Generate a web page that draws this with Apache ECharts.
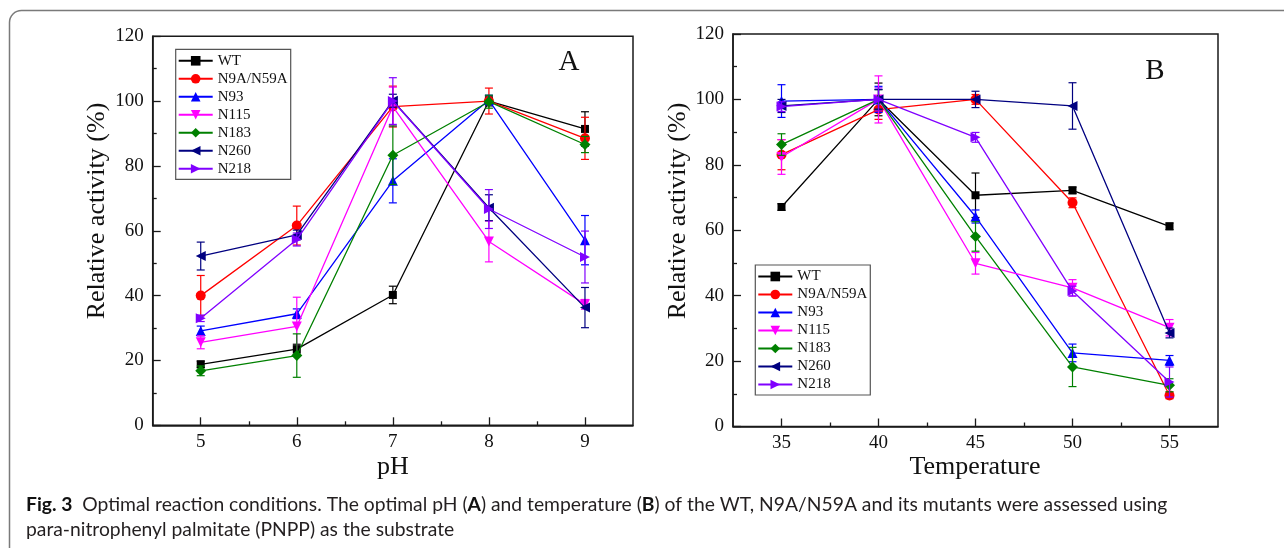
<!DOCTYPE html>
<html>
<head>
<meta charset="utf-8">
<script src="https://cdn.jsdelivr.net/npm/echarts@6/dist/echarts.min.js"></script>
<style>
html,body{margin:0;padding:0;background:#fff;}
#c{width:1284px;height:548px;}
</style>
</head>
<body>
<div id="c"></div>
<script>
// ---------- DATA ----------
const seriesNames = ['WT','N9A/N59A','N93','N115','N183','N260','N218'];
const phValues = [5,6,7,8,9];
const tempValues = [35,40,45,50,55];
const yTicks = [0,20,40,60,80,100,120];

// pH panel (A): relative activity (%)
const phWT      = [18.8, 23.5, 40.2, 100.0, 91.4];
const phN9A     = [40.0, 61.6, 98.3, 100.0, 88.5];
const phN93     = [29.1, 34.4, 75.4, 100.3, 57.1];
const phN115    = [25.6, 30.5, 98.3, 56.7, 37.3];
const phN183    = [16.8, 21.5, 83.3, 99.8, 86.6];
const phN260    = [52.2, 58.7, 100.1, 67.1, 36.3];
const phN218    = [33.0, 57.3, 100.0, 66.7, 51.9];
// pH panel error (±)
const phWTErr   = [1.0, 1.5, 2.7, 1.5, 5.3];
const phN9AErr  = [6.2, 6.0, 6.3, 4.0, 6.5];
const phN93Err  = [1.5, 1.5, 6.8, 1.5, 7.6];
const phN115Err = [2.0, 9.0, 6.0, 6.3, 1.5];
const phN183Err = [1.5, 6.7, 9.0, 2.0, 2.5];
const phN260Err = [4.3, 1.5, 2.0, 4.0, 6.2];
const phN218Err = [1.0, 2.0, 7.2, 6.0, 8.0];

// Temperature panel (B)
const tWT      = [67.1, 100.0, 70.7, 72.2, 61.2];
const tN9A     = [83.1, 96.9, 100.0, 68.4, 9.5];
const tN93     = [99.5, 100.0, 64.2, 22.5, 20.2];
const tN115    = [82.4, 100.0, 49.9, 42.4, 30.2];
const tN183    = [86.2, 100.0, 58.1, 18.2, 12.6];
const tN260    = [98.0, 100.0, 100.0, 98.0, 28.6];
const tN218    = [97.8, 100.0, 88.4, 41.4, 13.6];
const tWTErr   = [1.0, 5.0, 6.8, 1.0, 1.0];
const tN9AErr  = [4.6, 3.0, 1.5, 1.5, 1.0];
const tN93Err  = [5.0, 4.0, 2.0, 2.7, 1.5];
const tN115Err = [5.3, 7.2, 3.3, 2.5, 2.5];
const tN183Err = [3.3, 3.0, 4.5, 6.0, 2.0];
const tN260Err = [2.0, 3.0, 2.5, 7.1, 1.5];
const tN218Err = [1.5, 3.5, 1.5, 1.5, 4.6];

const phData  = [phWT, phN9A, phN93, phN115, phN183, phN260, phN218];
const phErr   = [phWTErr, phN9AErr, phN93Err, phN115Err, phN183Err, phN260Err, phN218Err];
const tData   = [tWT, tN9A, tN93, tN115, tN183, tN260, tN218];
const tErr    = [tWTErr, tN9AErr, tN93Err, tN115Err, tN183Err, tN260Err, tN218Err];

// ---------- STYLE ----------
const colors = ['#000000','#ff0000','#0000ff','#ff00ff','#008000','#000080','#8000ff'];
const symbols = ['rect','circle','triangle',
  'path://M0,0 L10,0 L5,10 Z',
  'diamond',
  'path://M10,0 L10,10 L0,5 Z',
  'path://M0,0 L0,10 L10,5 Z'];
const symSizes = [8,10,10,10,11,10,10];
const serif = "'Liberation Serif','Times New Roman',serif";

const chart = echarts.init(document.getElementById('c'), null, {renderer:'canvas'});

function errRender(color){
  return function(params, api){
    const x = api.value(0), y = api.value(1), e = api.value(2);
    const hi = api.coord([x, y + e]);
    const lo = api.coord([x, y - e]);
    const w = 4;
    const st = {stroke: color, lineWidth: 1.2, fill: null};
    return {type:'group', children:[
      {type:'line', shape:{x1:hi[0], y1:hi[1], x2:lo[0], y2:lo[1]}, style:st},
      {type:'line', shape:{x1:hi[0]-w, y1:hi[1], x2:hi[0]+w, y2:hi[1]}, style:st},
      {type:'line', shape:{x1:lo[0]-w, y1:lo[1], x2:lo[0]+w, y2:lo[1]}, style:st}
    ]};
  };
}

const axisLineStyle = {color:'#1a1a1a', width:1.5};

function mainX(gridIndex, min, max, vals){
  return {type:'value', gridIndex, min, max, position:'bottom',
    axisLine:{show:true, onZero:false, lineStyle:axisLineStyle},
    axisTick:{show:true, inside:true, length:8, customValues:vals, lineStyle:{color:'#1a1a1a', width:1.3}},
    axisLabel:{show:true, customValues:vals, margin:7, color:'#111', fontFamily:serif, fontSize:19},
    splitLine:{show:false}};
}
function minorX(gridIndex, min, max, vals){
  return {type:'value', gridIndex, min, max, position:'bottom',
    axisLine:{show:false},
    axisTick:{show:true, inside:true, length:4, customValues:vals, lineStyle:{color:'#1a1a1a', width:1.3}},
    axisLabel:{show:false},
    splitLine:{show:false}};
}
function mainY(gridIndex){
  return {type:'value', gridIndex, min:yTicks[0], max:yTicks[yTicks.length-1], interval:20,
    axisLine:{show:true, onZero:false, lineStyle:axisLineStyle},
    axisTick:{show:true, inside:true, length:8, lineStyle:{color:'#1a1a1a', width:1.3}},
    minorTick:{show:true, splitNumber:2, length:4, lineStyle:{color:'#1a1a1a', width:1.3}},
    axisLabel:{margin:9, color:'#111', fontFamily:serif, fontSize:19},
    splitLine:{show:false}};
}

const series = [];
function addPanel(xVals, data, errs, xAxisIndex, yAxisIndex){
  for (let i = 0; i < seriesNames.length; i++){
    series.push({
      type:'line', name:seriesNames[i], xAxisIndex, yAxisIndex,
      data: xVals.map((x,k)=>[x, data[i][k]]),
      symbol:symbols[i], symbolSize:symSizes[i],
      lineStyle:{color:colors[i], width:1.3},
      itemStyle:{color:colors[i]},
      z: 3 + i, animation:false
    });
  }
  for (let i = 0; i < seriesNames.length; i++){
    series.push({
      type:'custom', name:seriesNames[i] + ' err', xAxisIndex, yAxisIndex,
      data: xVals.map((x,k)=>[x, data[i][k], errs[i][k]]),
      encode:{x:0, y:1},
      renderItem: errRender(colors[i]),
      z: 3 + i, animation:false, silent:true
    });
  }
}
addPanel(phValues, phData, phErr, 0, 0);
addPanel(tempValues, tData, tErr, 2, 1);

function legend(left, top){
  return {orient:'vertical', left, top, data:seriesNames,
    itemWidth:34, itemHeight:12, itemGap:3,
    padding:[4,3,3,2], borderColor:'#555', borderWidth:1.2,
    textStyle:{fontFamily:serif, fontSize:15, lineHeight:15, color:'#111'},
    selectedMode:false};
}

const option = {
  backgroundColor:'#fff',
  animation:false,
  grid:[
    {left:152.7, right:651, top:36.2, bottom:122.7, show:true, borderColor:'#1a1a1a', borderWidth:1.5, containLabel:false},
    {left:733, right:66, top:34, bottom:121.5, show:true, borderColor:'#1a1a1a', borderWidth:1.5, containLabel:false}
  ],
  xAxis:[
    mainX(0, 4.5, 9.5, phValues),
    minorX(0, 4.5, 9.5, [5.5,6.5,7.5,8.5]),
    mainX(1, 32.5, 57.5, tempValues),
    minorX(1, 32.5, 57.5, [37.5,42.5,47.5,52.5])
  ],
  yAxis:[mainY(0), mainY(1)],
  legend:[legend(175.7, 49.3), legend(755.3, 265)],
  series,
  graphic:[
    {type:'rect', shape:{x:9.5, y:10.5, width:1400, height:700, r:12}, style:{fill:null, stroke:'#7a7a7a', lineWidth:1.5}, z:-10, silent:true},
    {type:'text', x:569, y:77, style:{text:'A', fontFamily:serif, fontSize:29, fill:'#111', align:'center', verticalAlign:'bottom'}},
    {type:'text', x:1155, y:86, style:{text:'B', fontFamily:serif, fontSize:29, fill:'#111', align:'center', verticalAlign:'bottom'}},
    {type:'text', x:97, y:211, rotation:Math.PI/2, style:{text:'Relative activity (%)', fontFamily:serif, fontSize:26, fill:'#111', align:'center', verticalAlign:'middle'}},
    {type:'text', x:678, y:211, rotation:Math.PI/2, style:{text:'Relative activity (%)', fontFamily:serif, fontSize:26, fill:'#111', align:'center', verticalAlign:'middle'}},
    {type:'text', x:393, y:467, style:{text:'pH', fontFamily:serif, fontSize:26, fill:'#111', align:'center', verticalAlign:'middle'}},
    {type:'text', x:975, y:467, style:{text:'Temperature', fontFamily:serif, fontSize:26, fill:'#111', align:'center', verticalAlign:'middle'}},
    {type:'text', x:26, y:505, style:{
      text:'{b|Fig. 3}  Optimal reaction conditions. The optimal pH ({b|A}) and temperature ({b|B}) of the WT, N9A/N59A and its mutants were assessed using',
      fontFamily:'Lato', fontSize:19.3, fill:'#231f20', verticalAlign:'middle',
      rich:{b:{fontFamily:'Lato', fontSize:19.3, fontWeight:'bold', fill:'#111'}}}},
    {type:'text', x:26, y:530, style:{
      text:'para-nitrophenyl palmitate (PNPP) as the substrate',
      fontFamily:'Lato', fontSize:19.3, fill:'#231f20', verticalAlign:'middle'}}
  ]
};
chart.setOption(option);
</script>
</body>
</html>
